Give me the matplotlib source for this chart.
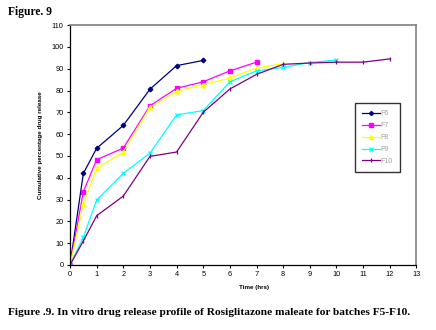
import matplotlib
matplotlib.use('Agg')
import matplotlib.pyplot as plt

# release data (time in hrs, % released)
t_f5 = [0, 0.5, 1, 2, 3, 4, 5]
f5 = [0, 42, 53.5, 64, 80.6, 91.4, 93.8]

t_f7 = [0, 0.5, 1, 2, 3, 4, 5, 6, 7]
f7 = [0, 33.6, 48.3, 53.6, 73, 81, 84, 89, 93]

t_f8 = [0, 0.5, 1, 2, 3, 4, 5, 6, 7, 8]
f8 = [0, 28, 44.3, 51.8, 72.3, 79.6, 82.7, 85.7, 90.3, 92.3]

t_f9 = [0, 0.5, 1, 2, 3, 4, 5, 6, 7, 8, 9, 10]
f9 = [0, 12.7, 29.8, 42, 51.3, 68.8, 70.8, 84, 89, 90.6, 92.8, 94]

t_f10 = [0, 0.5, 1, 2, 3, 4, 5, 6, 7, 8, 9, 10, 11, 12]
f10 = [0, 11, 22.6, 31.6, 49.8, 51.8, 70, 80.7, 87.4, 92, 92.6, 93, 93, 94.5]

fig = plt.figure(figsize=(4.36, 3.30), dpi=100)
ax = fig.add_axes([0.1606, 0.197, 0.7944, 0.727])

ax.plot(t_f5, f5, color='#000080', marker='D', ms=2.3, lw=0.9, label='F6')
ax.plot(t_f7, f7, color='#FF00FF', marker='s', ms=3.2, lw=0.9, label='F7')
ax.plot(t_f8, f8, color='#FFFF00', marker='^', ms=3.2, lw=0.9, label='F8')
ax.plot(t_f9, f9, color='#00FFFF', marker='x', ms=2.8, mew=0.9, lw=0.9, label='F9')
ax.plot(t_f10, f10, color='#800080', marker='|', ms=3, mew=0.9, lw=0.9, label='F10')

ax.set_xlim(0, 13)
ax.set_ylim(0, 110)
ax.set_xticks(range(0, 14))
ax.set_yticks(range(0, 111, 10))
ax.tick_params(labelsize=5.3, length=2.5, width=0.8, direction='out', pad=2)
for lab in ax.get_xticklabels() + ax.get_yticklabels():
    lab.set_family('Liberation Sans')

for s in ['left', 'bottom']:
    ax.spines[s].set_color('black')
    ax.spines[s].set_linewidth(0.9)
for s in ['top', 'right']:
    ax.spines[s].set_color('#808080')
    ax.spines[s].set_linewidth(1.2)

ax.set_xlabel('Time (hrs)', fontsize=4.5, fontweight='bold', family='Liberation Sans', labelpad=2)
ax.xaxis.set_label_coords(0.53, -0.085)
ax.set_ylabel('Cumulative percentage drug release', fontsize=4.5, fontweight='bold',
              family='Liberation Sans', labelpad=6)

leg = ax.legend(loc='upper left', bbox_to_anchor=(0.812, 0.688),
                frameon=True, fancybox=False, edgecolor='black', handlelength=2.6,
                labelspacing=0.7, borderpad=1.0, handletextpad=0.1, markerscale=0.9,
                prop={'family': 'Liberation Sans', 'size': 5})
leg.get_frame().set_linewidth(1.0)
for txt in leg.get_texts():
    txt.set_color('#A0A0A0')

fig.text(0.018, 0.965, 'Figure. 9', fontsize=8.3, fontweight='bold', family='Liberation Serif',
         va='center')
fig.text(0.018, 0.052, 'Figure .9. In vitro drug release profile of Rosiglitazone maleate for batches F5-F10.',
         fontsize=8.2, fontweight='bold', family='Liberation Serif', va='center')

fig.savefig('out.png', dpi=100)
